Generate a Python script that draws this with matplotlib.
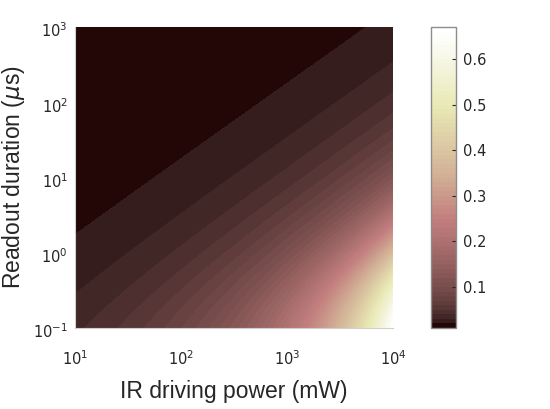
import numpy as np
import matplotlib
matplotlib.use("Agg")
import matplotlib.pyplot as plt
import matplotlib.transforms as mtransforms
from matplotlib.ticker import FixedLocator, NullLocator
from matplotlib.colors import Normalize

# axis ranges (log10 decades)
power_decades = [1, 4]       # IR driving power, mW
duration_decades = [-1, 3]   # readout duration, us

# model parameters
f_floor = 0.01       # value in the dark corner
k_soft = 0.0049      # weight of the u^0.4 term
k_lin = 3.4e-5       # weight of the linear term (bright corner)
bend_scale = 0.0283  # us, bend time at 1 mW
bend_power = 0.345   # bend time grows as P^bend_power
level_step = 0.01

x_ticks = [1e1, 1e2, 1e3, 1e4]
x_ticklabels = ["$10^{1}$", "$10^{2}$", "$10^{3}$", "$10^{4}$"]
y_ticks = [1e-1, 1e0, 1e1, 1e2, 1e3]
y_ticklabels = ["$10^{-1}$", "$10^{0}$", "$10^{1}$", "$10^{2}$", "$10^{3}$"]
cbar_ticks = [0.1, 0.2, 0.3, 0.4, 0.5, 0.6]
cbar_ticklabels = ["0.1", "0.2", "0.3", "0.4", "0.5", "0.6"]

plt.rcParams["font.family"] = ["DejaVu Sans"]
plt.rcParams["mathtext.fontset"] = "dejavusans"

P = np.logspace(power_decades[0], power_decades[1], 500)
T = np.logspace(duration_decades[0], duration_decades[1], 500)
PP, TT = np.meshgrid(P, T)
U = PP / (TT + bend_scale * PP ** bend_power)
Z = f_floor + k_soft * U ** 0.4 + k_lin * U

fig = plt.figure(figsize=(5.5, 4.09), dpi=100)
ax = fig.add_axes([0.136, 0.198, 0.579, 0.736])
cax = fig.add_axes([0.784, 0.198, 0.045, 0.736])

inner = np.arange(0.02, Z.max(), level_step)
inner = inner[(inner > Z.min()) & (inner < Z.max() - 1e-4)]
levels = np.concatenate([[Z.min()], inner, [Z.max()]])
norm = Normalize(Z.min(), Z.max())
cs = ax.contourf(PP, TT, Z, levels=levels, cmap="pink", norm=norm)
cs.set_edgecolor("face")
cs.set_linewidth(0.4)
ax.set_xscale("log")
ax.set_yscale("log")
ax.set_xlim(P[0], P[-1])
ax.set_ylim(T[0], T[-1])

ax.xaxis.set_major_locator(FixedLocator(x_ticks))
ax.yaxis.set_major_locator(FixedLocator(y_ticks))
ax.xaxis.set_minor_locator(NullLocator())
ax.yaxis.set_minor_locator(NullLocator())
ax.set_xticklabels(x_ticklabels)
ax.set_yticklabels(y_ticklabels, va="center")
ax.tick_params(length=0, labelsize=10.5, labelcolor="#262626")
ax.tick_params(axis="x", pad=15)
ax.tick_params(axis="y", pad=5)
shift = mtransforms.ScaledTranslation(0, -4 / 100, fig.dpi_scale_trans)
for lab in ax.get_yticklabels():
    lab.set_transform(lab.get_transform() + shift)
for side in ["top", "right"]:
    ax.spines[side].set_visible(False)
for side in ["left", "bottom"]:
    ax.spines[side].set_color("#d0d0d0")
    ax.spines[side].set_linewidth(0.8)

ax.set_xlabel("IR driving power (mW)", fontsize=16.5, family="Liberation Sans",
              color="#262626", labelpad=9)
ax.set_ylabel("Readout duration ($\\mu$s)", fontsize=16.5, family="Liberation Sans",
              color="#262626", labelpad=4)

cb = fig.colorbar(cs, cax=cax, ticks=cbar_ticks)
cb.outline.set_edgecolor("#8c8c8c")
cb.outline.set_linewidth(1)
cax.tick_params(direction="in", length=3, width=0.8, color="#262626",
                labelsize=10.5, labelcolor="#262626", pad=5)
cax.set_yticklabels(cbar_ticklabels)

fig.savefig("out.png", dpi=100)
